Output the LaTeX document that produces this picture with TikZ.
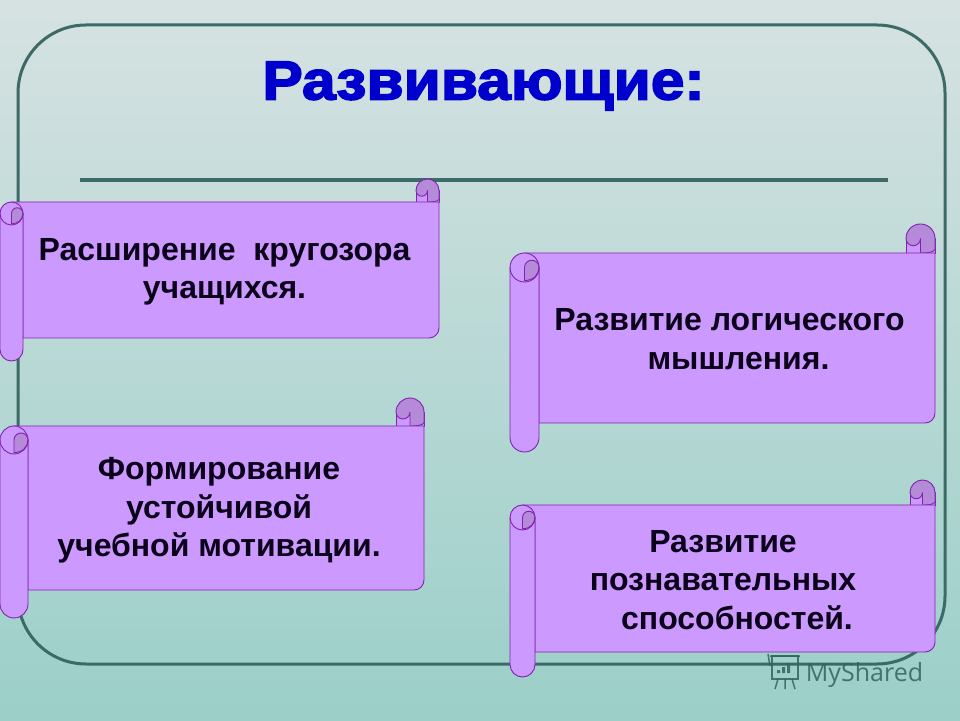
\documentclass[tikz,border=0pt]{standalone}
\usepackage{fontspec}
\setmainfont{Liberation Sans}
\newfontfamily\ttlfont[FakeBold=3,FakeStretch=1.1]{Liberation Sans Bold}
\newfontfamily\wmfont{Open Sans}
\definecolor{framec}{RGB}{60,106,102}
\definecolor{scrollf}{RGB}{204,153,255}
\definecolor{scrolld}{RGB}{181,138,216}
\definecolor{scrolle}{RGB}{130,35,175}
\definecolor{titlec}{RGB}{0,0,204}
\definecolor{txtc}{RGB}{10,0,25}
\definecolor{wmc}{RGB}{50,100,95}
\tikzset{
  x=1pt,y=1pt,
  scrollline/.style={draw=scrolle,line width=0.9pt,line join=round},
  frameline/.style={draw=framec,line width=3pt},
  rule/.style={draw=framec,line width=3.6pt},
  bodytext/.style={font=\fontsize{32}{38.5}\selectfont\bfseries,text=txtc,align=center,inner sep=0pt},
}
% #1 left, #2 top (pixels from top), #3 body width, #4 body height, #5 roll width
\newcommand\scrollshape[5]{%
 \begin{scope}[shift={(#1,720-#2)}]
  \def\W{#3}\def\H{#4}\def\w{#5}
  \pgfmathsetmacro\rr{\w/2}
  \pgfmathsetmacro\rq{\w/4}
  % right knob
  \draw[scrollline,fill=scrollf] (\W-\w,\rr) -- (\W-\w,0) -- (\W,0) -- (\W,\rr) -- cycle;
  \draw[scrollline,fill=scrolld] (\W-\w,\rr) arc (180:0:\rr) -- (\W,0.12*\w) .. controls (\W-0.05*\w,0.03*\w) and (\W-0.2*\w,0) .. (\W-\rr,0) -- (\W-\rr,\rr) arc (0:-180:\rq) -- cycle;
  % body
  \draw[scrollline,fill=scrollf] (\rr,0) -- (\W,0) -- (\W,-\H+10) arc (0:-90:10) -- (\w,-\H) -- (\w,-\rr) -- cycle;
  % left roll
  \draw[scrollline,fill=scrollf] (0,-\rr) arc (180:0:\rr) -- (\w,-\H-\rr) arc (0:-180:\rr) -- cycle;
  \draw[scrollline,fill=scrolld] (\rr,-0.95*\w) -- (\rr,-\rr) arc (180:0:\rq) .. controls (\w,-0.75*\w) and (0.8*\w,-0.95*\w) .. (\rr,-0.95*\w) -- cycle;
  \draw[scrollline] (0,-\rr) arc (180:360:\rr);
 \end{scope}}
\begin{document}
\begin{tikzpicture}
\useasboundingbox (0,0) rectangle (960,720);
\shade[top color={rgb,255:red,214;green,226;blue,226},middle color={rgb,255:red,193;green,217;blue,219},bottom color={rgb,255:red,155;green,207;blue,200}] (0,0) rectangle (960,720);
\draw[frameline] (18,56) [rounded corners=68pt] rectangle (945,695);
\draw[rule] (80,540) coordinate (ruleA) -- (888,540) coordinate (ruleB);
\node[font=\fontsize{55}{60}\selectfont\ttlfont,text=titlec,inner sep=0pt] (title) at (483.5,634) {Развивающие:};

\scrollshape{0}{202}{439}{136}{23}
\scrollshape{510}{253}{425}{170}{29}
\scrollshape{0}{426}{424}{164}{28}
\scrollshape{510}{505}{425}{147}{25}

\node[bodytext] (t1) at (224.5,448) {Расширение\ \ кругозора\\учащихся.};
\node[bodytext] (t2) at (729.5,381) {Развитие логического\\\hspace*{18pt}мышления.};
\node[bodytext] (t3) at (219,209.5) {Формирование\\устойчивой\\учебной мотивации.};
\node[bodytext] (t4) at (729,140) {\hspace*{-12pt}Развитие\\\hspace*{-12pt}познавательных\\\hspace*{16pt}способностей.};

% watermark
\begin{scope}[draw=wmc,line width=1.5pt,opacity=.85]
 \draw (772,64) rectangle (798,41);
 \draw (768,66) -- (770,54) (770,64) -- (800,64);
 \fill[wmc] (777,47) rectangle +(3,3) (782,47) rectangle +(3,6) (787,47) rectangle +(3,10);
 \draw (778,41) -- (775,31) (785,41) -- (785,31) (792,41) -- (795,31);
\end{scope}
\node[font=\fontsize{25}{30}\selectfont\wmfont,text=wmc,text opacity=.85,inner sep=0pt] (wm) at (864.5,45) {MyShared};
\end{tikzpicture}
\end{document}
